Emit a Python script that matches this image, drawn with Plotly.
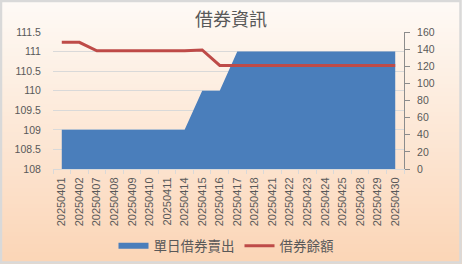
import plotly.graph_objects as go

# Trading dates (category axis)
dates = ["20250401", "20250402", "20250407", "20250408", "20250409", "20250410",
         "20250411", "20250414", "20250415", "20250416", "20250417", "20250418",
         "20250421", "20250422", "20250423", "20250424", "20250425", "20250428",
         "20250429", "20250430"]

# 單日借券賣出 (left axis)
daily_short = [109, 109, 109, 109, 109, 109, 109, 109, 110, 110,
               111, 111, 111, 111, 111, 111, 111, 111, 111, 111]

# 借券餘額 (right axis)
balance = [148, 148, 138, 138, 138, 138, 138, 138, 139, 121,
           121, 121, 121, 121, 121, 121, 121, 121, 121, 121]

left_ticks = [108, 108.5, 109, 109.5, 110, 110.5, 111, 111.5]
left_ticktext = ["108", "108.5", "109", "109.5", "110", "110.5", "111", "111.5"]
right_ticks = [0, 20, 40, 60, 80, 100, 120, 140, 160]

W, H = 462, 264
ML, MR, MT, MB = 53, 58, 32, 95
PW, PH = W - ML - MR, H - MT - MB

TEXT = "#595959"
GRID = "#d9d9d9"
FONT = "Liberation Sans, Noto Sans CJK TC, sans-serif"
CJK = "Noto Sans CJK TC, sans-serif"


def px_x(p):
    return (p - ML) / PW


def px_y(p):
    return (H - MB - p) / PH


fig = go.Figure()

fig.add_trace(go.Scatter(
    x=dates, y=daily_short, name="單日借券賣出",
    mode="none", fill="tozeroy", fillcolor="#4a7ebb",
    yaxis="y",
))
fig.add_trace(go.Scatter(
    x=dates, y=balance, name="借券餘額",
    mode="lines", line=dict(color="#be4b48", width=3),
    yaxis="y2",
))

# Vertical background gradient built from thin horizontal bands
top_rgb = (254, 250, 246)
bot_rgb = (251, 213, 182)
bands = 66
shapes = []
for i in range(bands):
    t = i / (bands - 1)
    r = round(top_rgb[0] + (bot_rgb[0] - top_rgb[0]) * t)
    g = round(top_rgb[1] + (bot_rgb[1] - top_rgb[1]) * t)
    b = round(top_rgb[2] + (bot_rgb[2] - top_rgb[2]) * t)
    p0 = i * H / bands
    p1 = (i + 1) * H / bands + 0.6
    shapes.append(dict(
        type="rect", xref="paper", yref="paper", layer="below",
        x0=px_x(0), x1=px_x(W), y0=px_y(p1), y1=px_y(p0),
        fillcolor=f"rgb({r},{g},{b})", line=dict(width=0),
    ))
# Outer chart border
shapes.append(dict(
    type="rect", xref="paper", yref="paper", layer="above",
    x0=px_x(1), x1=px_x(W - 1.5), y0=px_y(H - 1.5), y1=px_y(1),
    line=dict(color=GRID, width=2.5), fillcolor="rgba(0,0,0,0)",
))

fig.update_layout(
    width=W, height=H,
    margin=dict(l=ML, r=MR, t=MT, b=MB, pad=0, autoexpand=False),
    paper_bgcolor="rgba(0,0,0,0)", plot_bgcolor="rgba(0,0,0,0)",
    shapes=shapes,
    title=dict(text="借券資訊", x=px_x(231), xref="paper", xanchor="center",
               y=1 - 20 / H, yanchor="middle",
               font=dict(family=CJK, size=18, color=TEXT)),
    xaxis=dict(
        type="category", range=[-0.5, len(dates) - 0.5], automargin=False,
        tickangle=-90, tickfont=dict(family=FONT, size=11, color=TEXT),
        showline=True, linecolor=GRID, linewidth=1,
        ticks="outside", tickson="boundaries", ticklen=4, tickcolor=GRID,
        ticklabelstandoff=3,
        showgrid=False, zeroline=False,
    ),
    yaxis=dict(
        range=[108, 111.5], tickvals=left_ticks, ticktext=left_ticktext,
        automargin=False,
        tickfont=dict(family=FONT, size=10.5, color=TEXT),
        showgrid=True, gridcolor=GRID, gridwidth=1,
        ticks="outside", ticklen=9, tickcolor="rgba(0,0,0,0)",
        showline=False, zeroline=False,
    ),
    yaxis2=dict(
        overlaying="y", side="right", range=[0, 160], tickvals=right_ticks,
        automargin=False,
        tickfont=dict(family=FONT, size=10.5, color=TEXT),
        showgrid=False, zeroline=False,
        showline=True, linecolor="#8c8c8c", linewidth=1,
        ticks="outside", ticklen=5, tickcolor="#8c8c8c",
        ticklabelstandoff=5,
    ),
    legend=dict(
        orientation="h", x=px_x(226), xanchor="center",
        y=px_y(246), yanchor="middle",
        font=dict(family=CJK, size=13.5, color=TEXT),
        bgcolor="rgba(0,0,0,0)", itemwidth=30,
    ),
    showlegend=True,
)

fig.write_html("out.html")
